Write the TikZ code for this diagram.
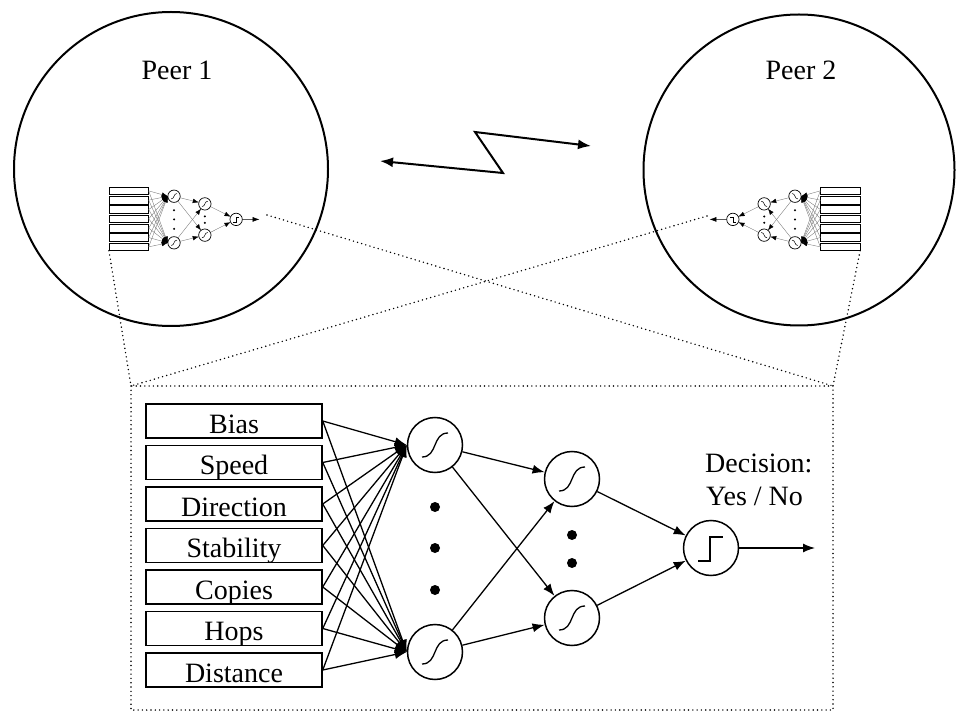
\documentclass[tikz,border=0pt]{standalone}
\usepackage{fontspec}
\setmainfont{Liberation Serif}
\usetikzlibrary{arrows.meta}
\newcommand{\netlab}[1]{#1}
\newcommand{\sigglyph}[2]{\draw[glyph] ({#1-13},{#2+12}) .. controls ({#1+3},{#2+12}) and ({#1-3},{#2-12}) .. ({#1+13},{#2-12});}
\newcommand{\netbody}[1]{%
  \foreach \i/\t in {1/Bias,2/Speed,3/Direction,4/Stability,5/Copies,6/Hops,7/Distance}
    \node[inbox] (#1in\i) at (234,{421+41.5*(\i-1)}) {\netlab{\t}};
  \node[neuron] (#1ha) at (435,445) {};
  \node[neuron] (#1hb) at (435,652) {};
  \node[neuron] (#1ga) at (572,479) {};
  \node[neuron] (#1gb) at (572,618) {};
  \node[neuron] (#1o) at (711,548) {};
  \coordinate (#1out) at (815,548);
  \sigglyph{435}{445}\sigglyph{435}{652}\sigglyph{572}{479}\sigglyph{572}{618}
  \draw[glyph] (698,561) -- (710,561) -- (710,537) -- (723,537);
  \foreach \i in {1,...,7} {\draw[conn] (#1in\i.east) -- (#1ha.west); \draw[conn] (#1in\i.east) -- (#1hb.west);}
  \draw[conn] (#1ha) -- (#1ga);
  \draw[conn] (#1ha) -- (#1gb);
  \draw[conn] (#1hb) -- (#1ga);
  \draw[conn] (#1hb) -- (#1gb);
  \draw[conn] (#1ga) -- (#1o);
  \draw[conn] (#1gb) -- (#1o);
  \draw[outconn] (#1o) -- (#1out);
  \fill (435,507) circle (5); \fill (435,548) circle (5); \fill (435,590) circle (5);
  \fill (572,535) circle (5); \fill (572,563) circle (5);
}
\tikzset{
  inbox/.style={draw, line width=1.5pt, minimum width=176pt, minimum height=34pt, inner sep=0pt,
    text height=26pt, text depth=2pt, font=\fontsize{28}{33}\selectfont},
  neuron/.style={draw, circle, line width=1.5pt, minimum size=55pt, inner sep=0pt},
  glyph/.style={line width=1.3pt},
  conn/.style={line width=1.3pt, -{Latex[length=12pt,width=9pt]}},
  outconn/.style={line width=1.3pt, -{Latex[length=12pt,width=9pt]}},
  mini/.style={
    inbox/.append style={line width=0.7pt},
    neuron/.append style={line width=0.7pt},
    glyph/.style={line width=0.5pt},
    conn/.style={line width=0.35pt, draw=black!55, -{Latex[length=6pt,width=4.5pt,fill=black,color=black]}},
    outconn/.style={line width=0.6pt, -{Latex[length=7pt,width=5pt]}}},
  peer/.style={draw, circle, line width=2pt, inner sep=0pt},
  plabel/.style={anchor=base, font=\fontsize{28}{33}\selectfont, inner sep=0pt},
  dlabel/.style={anchor=base west, font=\fontsize{28}{33}\selectfont, inner sep=0pt},
  dots/.style={line width=1.6pt, dash pattern=on 0pt off 4.3pt, line cap=round},
  bolt/.style={line width=2pt, {Latex[length=13pt,width=10pt]}-{Latex[length=13pt,width=10pt]}}
}
\begin{document}
\begin{tikzpicture}[x=1pt,y=-1pt]
\useasboundingbox (0,0) rectangle (956,711);
% peers
\node[peer, minimum size=314pt] (peer1) at (171,169) {};
\node[peer, minimum size=311pt] (peer2) at (799,170) {};
\node[plabel] (lab1) at (177,80) {Peer 1};
\node[plabel] (lab2) at (801,80) {Peer 2};
% communication bolt
\coordinate (lz1) at (380,161);
\coordinate (lz2) at (503,173);
\coordinate (lz3) at (475,132);
\coordinate (lz4) at (591,146);
\draw[bolt] (lz1) -- (lz2) -- (lz3) -- (lz4);
% mini networks
\begin{scope}[shift={(76.15,96.1)}, scale=0.225, transform shape, mini]
  \renewcommand{\netlab}[1]{}
  \netbody{pa}
\end{scope}
\begin{scope}[shift={(892.85,96.1)}, xscale=-0.225, yscale=0.225, transform shape, mini]
  \renewcommand{\netlab}[1]{}
  \netbody{pb}
\end{scope}
% full network
\netbody{f}
\node[dlabel] (dec1) at (705,472) {Decision:};
\node[dlabel] (dec2) at (706,505) {Yes / No};
% zoom box
\coordinate (bxtl) at (131,386);
\coordinate (bxbr) at (833,710);
\coordinate (bxtr) at (833,386);
\coordinate (pastart) at (267,215);
\coordinate (pbstart) at (707,216);
\draw[dots] (bxtl) rectangle (bxbr);
\draw[dots] (pain7.south west) -- (bxtl);
\draw[dots] (pastart) -- (bxtr);
\draw[dots] (pbin7.south west) -- (bxtr);
\draw[dots] (pbstart) -- (bxtl);
\end{tikzpicture}
\end{document}
